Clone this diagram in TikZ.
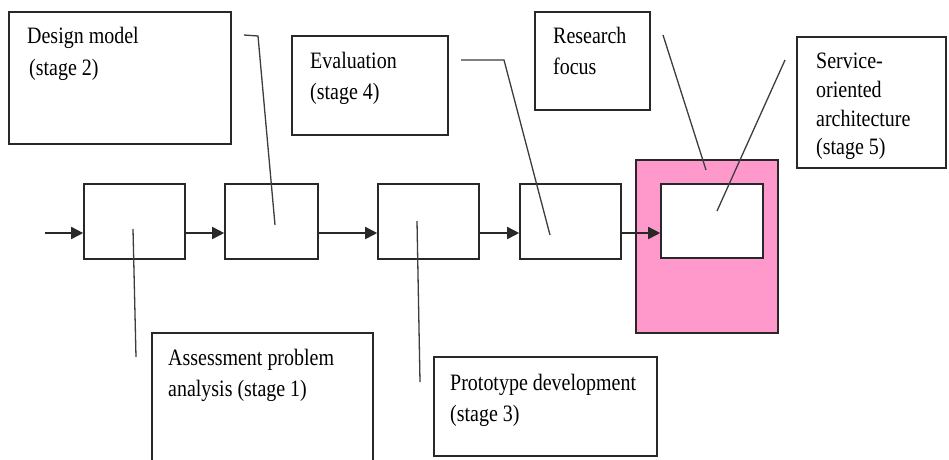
\documentclass[tikz,border=0pt]{standalone}
\usepackage{fontspec}
\setmainfont[FakeStretch=0.85]{Liberation Serif}
\usetikzlibrary{arrows.meta}
\definecolor{pinkfill}{RGB}{255,153,204}
\definecolor{edge}{RGB}{40,40,40}
\tikzset{
  box/.style={draw=edge, line width=1.6pt, rectangle, inner sep=0pt, fill=white},
  lbl/.style={anchor=base west, inner sep=0pt, font=\fontsize{23.5}{32}\selectfont},
  arr/.style={draw=edge, line width=1.6pt, -{Triangle[length=12pt,width=12pt]}},
  callout/.style={draw=edge!90, line width=1.3pt}
}
\begin{document}
\begin{tikzpicture}[x=1pt,y=-1pt]
\useasboundingbox (0,0) rectangle (949,459);
\clip (0,0) rectangle (949,459);
\fill[white] (0,0) rectangle (949,459);

% callout boxes
\node[box, minimum width=222pt, minimum height=132pt] (dm) at (120,78) {};
\node[lbl] (dmt1) at (27,43) {Design model};
\node[lbl] (dmt2) at (29,75) {(stage 2)};

\node[box, minimum width=156pt, minimum height=99pt] (ev) at (370,85.5) {};
\node[lbl] (evt1) at (310,68) {Evaluation};
\node[lbl] (evt2) at (310,99) {(stage 4)};

\node[box, minimum width=115pt, minimum height=98pt] (rf) at (592.5,61) {};
\node[lbl] (rft1) at (553,43) {Research};
\node[lbl] (rft2) at (553,74) {focus};

\node[box, minimum width=149pt, minimum height=131pt] (soa) at (871.5,102.5) {};
\node[lbl] (soat1) at (816,68) {Service-};
\node[lbl] (soat2) at (816,97) {oriented};
\node[lbl] (soat3) at (816,126) {architecture};
\node[lbl] (soat4) at (816,154) {(stage 5)};

\node[box, minimum width=221pt, minimum height=150pt, anchor=north west] (ap) at (151,332) {};
\node[lbl] (apt1) at (168,365) {Assessment problem};
\node[lbl] (apt2) at (168,396) {analysis (stage 1)};

\node[box, minimum width=223pt, minimum height=99pt] (pd) at (545.5,406.5) {};
\node[lbl] (pdt1) at (450,390) {Prototype development};
\node[lbl] (pdt2) at (450,421) {(stage 3)};

% research focus area
\node[box, fill=pinkfill, minimum width=142pt, minimum height=173pt] (pink) at (707,246.5) {};
\node[box, minimum width=102pt, minimum height=74pt] (b5) at (712,221) {};

% process boxes
\node[box, minimum width=101pt, minimum height=75pt] (b1) at (134.5,221.5) {};
\node[box, minimum width=93pt, minimum height=75pt] (b2) at (271.5,221.5) {};
\node[box, minimum width=101pt, minimum height=75pt] (b3) at (428.5,221.5) {};
\node[box, minimum width=101pt, minimum height=75pt] (b4) at (570.5,221.5) {};

% arrows
\coordinate (start) at (45,233);
\draw[arr] (start) -- (start -| b1.west);
\draw[arr] ([yshift=-11.5pt]b1.east) -- ([yshift=-11.5pt]b2.west);
\draw[arr] ([yshift=-11.5pt]b2.east) -- ([yshift=-11.5pt]b3.west);
\draw[arr] ([yshift=-11.5pt]b3.east) -- ([yshift=-11.5pt]b4.west);
\draw[arr] ([yshift=-11.5pt]b4.east) -- ([yshift=-12pt]b5.west);

% callout lines
\coordinate (c2a) at (244,35); \coordinate (c2b) at (258,36); \coordinate (c2c) at (275,225);
\draw[callout] (c2a) -- (c2b) -- (c2c);
\coordinate (c4a) at (461,60); \coordinate (c4b) at (504,60); \coordinate (c4c) at (550,235);
\draw[callout] (c4a) -- (c4b) -- (c4c);
\coordinate (crfa) at (663,35); \coordinate (crfb) at (706,170);
\draw[callout] (crfa) -- (crfb);
\coordinate (c5a) at (785,60); \coordinate (c5b) at (717,211);
\draw[callout] (c5a) -- (c5b);
\coordinate (c1a) at (133,229); \coordinate (c1b) at (136,357);
\draw[callout] (c1a) -- (c1b);
\coordinate (c3a) at (417,221); \coordinate (c3b) at (420,382);
\draw[callout] (c3a) -- (c3b);
\end{tikzpicture}
\end{document}
